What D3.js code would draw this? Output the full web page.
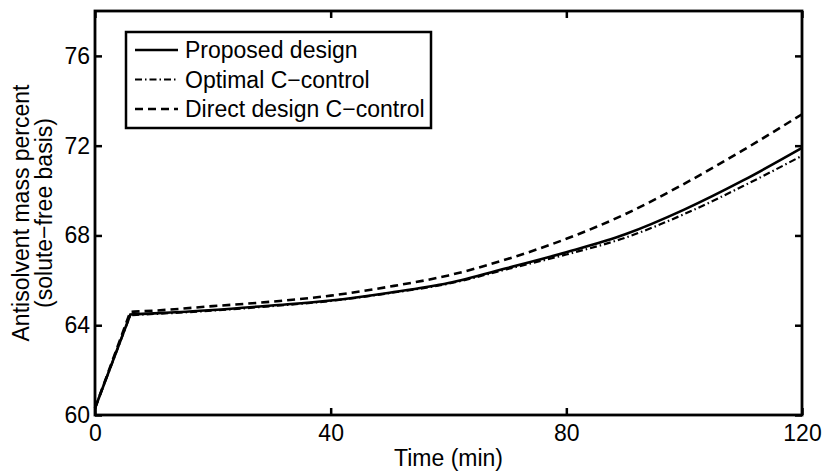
<!DOCTYPE html>
<html><head><meta charset="utf-8">
<script src="https://cdn.jsdelivr.net/npm/d3@7"></script>
<style>body{margin:0;background:#fff}text{font-family:"Liberation Sans",Arial,sans-serif}</style>
</head><body><svg id="c" width="824" height="471"></svg>
<script>
const time = [0, 6, 10, 20, 30, 40, 50, 60, 70, 80, 90, 100, 110, 120];
const proposed = [60.3, 64.48, 64.53, 64.68, 64.88, 65.1, 65.45, 65.88, 66.55, 67.25, 68.05, 69.15, 70.45, 71.9];
const optimal  = [60.3, 64.45, 64.5, 64.65, 64.85, 65.08, 65.43, 65.85, 66.5, 67.15, 67.9, 68.95, 70.2, 71.55];
const direct   = [60.3, 64.6, 64.65, 64.85, 65.05, 65.32, 65.72, 66.22, 66.95, 67.85, 68.95, 70.3, 71.8, 73.4];
const xTicks = [0, 40, 80, 120];
const yTicks = [60, 64, 68, 72, 76];
const seriesNames = ["Proposed design", "Optimal C\u2212control", "Direct design C\u2212control"];
const seriesDash = [null, "7,3,1.5,3", "8,5"];

const svg = d3.select("#c");
const L = 95, R = 802, T = 11, B = 415;
const x = d3.scaleLinear().domain([0, 120]).range([L, R]);
const y = d3.scaleLinear().domain([60, 78]).range([B, T]);

const fs = 23;
const font = '"Liberation Sans",Arial,sans-serif';
// curves: straight initial ramp, smooth afterwards
const lineLin = d3.line().x(d => x(d[0])).y(d => y(d[1]));
const lineSm = d3.line().x(d => x(d[0])).y(d => y(d[1])).curve(d3.curveMonotoneX);
const data = [proposed, optimal, direct];
const widths = [2.6, 2.2, 2.6];
data.forEach((s, k) => {
  const pts = s.map((v, i) => [time[i], v]);
  const d1 = lineLin(pts.slice(0, 2));
  const d2 = lineSm(pts.slice(1)).replace(/^M[^CL]*/, "");
  svg.append("path").attr("d", d1 + d2).attr("fill", "none").attr("stroke", "#000")
    .attr("stroke-width", widths[k]).attr("stroke-dasharray", seriesDash[k]).attr("stroke-linejoin", "miter");
});

// axes with inward ticks
const tl = 7;
const gB = svg.append("g").attr("transform", `translate(0,${B})`).call(d3.axisBottom(x).tickValues(xTicks).tickSize(-tl).tickPadding(10));
const gT = svg.append("g").attr("transform", `translate(0,${T})`).call(d3.axisTop(x).tickValues(xTicks).tickSize(-tl).tickFormat(""));
const gL = svg.append("g").attr("transform", `translate(${L},0)`).call(d3.axisLeft(y).tickValues(yTicks).tickSize(-tl).tickPadding(5));
const gR = svg.append("g").attr("transform", `translate(${R},0)`).call(d3.axisRight(y).tickValues(yTicks).tickSize(-tl).tickFormat(""));
[gB, gT, gL, gR].forEach(g => {
  g.select(".domain").remove();
  g.selectAll(".tick line").attr("stroke", "#000").attr("stroke-width", 2.5);
  g.selectAll("text").attr("font-size", fs).attr("fill", "#000").style("font-family", font);
});
svg.append("rect").attr("x", L).attr("y", T).attr("width", R - L).attr("height", B - T)
  .attr("fill", "none").attr("stroke", "#000").attr("stroke-width", 2.8);

// axis titles
svg.append("text").attr("x", (L + R) / 2).attr("y", 466).attr("text-anchor", "middle").attr("font-size", fs).text("Time (min)");
const yl = svg.append("text").attr("transform", `translate(0,${(T + B) / 2}) rotate(-90)`).attr("text-anchor", "middle").attr("font-size", fs);
yl.append("tspan").attr("x", 0).attr("y", 29).text("Antisolvent mass percent");
yl.append("tspan").attr("x", 0).attr("y", 52).text("(solute\u2212free basis)");

// legend
const lg = svg.append("g");
lg.append("rect").attr("x", 126).attr("y", 32).attr("width", 305).attr("height", 96)
  .attr("fill", "#fff").attr("stroke", "#000").attr("stroke-width", 2.5);
seriesNames.forEach((n, k) => {
  const cy = 50 + k * 29.5;
  lg.append("line").attr("x1", 135).attr("x2", 178).attr("y1", cy).attr("y2", cy)
    .attr("stroke", "#000").attr("stroke-width", widths[k]).attr("stroke-dasharray", seriesDash[k]);
  lg.append("text").attr("x", 185).attr("y", cy).attr("dy", "0.35em").attr("font-size", fs).text(n);
});
</script></body></html>
